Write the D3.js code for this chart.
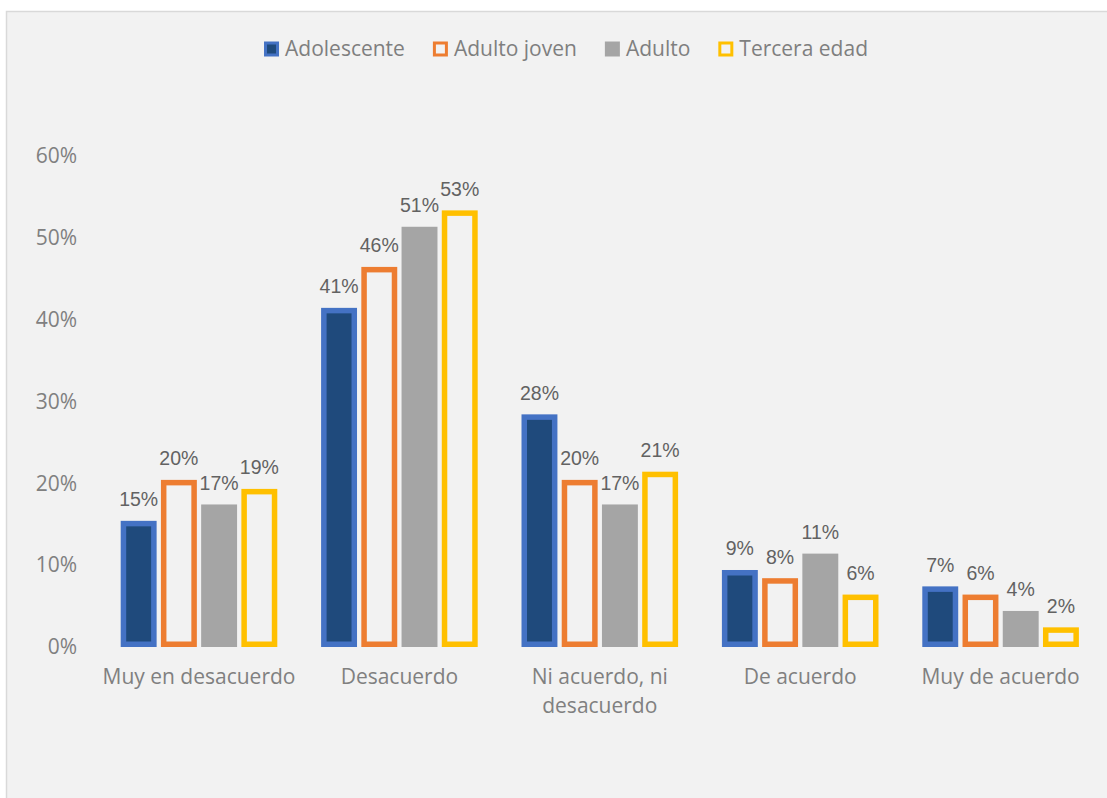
<!DOCTYPE html>
<html>
<head>
<meta charset="utf-8">
<script src="https://cdn.jsdelivr.net/npm/d3@7"></script>
<style>
  body { margin: 0; background: #ffffff; }
  svg { display: block; }
</style>
</head>
<body>
<svg id="chart"></svg>
<script>
// data (percent)
const categories = ["Muy en desacuerdo", "Desacuerdo", "Ni acuerdo, ni desacuerdo", "De acuerdo", "Muy de acuerdo"];
const series = ["Adolescente", "Adulto joven", "Adulto", "Tercera edad"];
const adolescente = [15.4, 41.4, 28.4, 9.4, 7.4];
const adultoJoven = [20.4, 46.4, 20.4, 8.4, 6.4];
const adulto = [17.4, 51.3, 17.4, 11.4, 4.4];
const terceraEdad = [19.3, 53.3, 21.4, 6.4, 2.4];
const yTicks = [0, 10, 20, 30, 40, 50, 60];

const values = [adolescente, adultoJoven, adulto, terceraEdad];
const styles = [
  { fill: "#1f4a7c", stroke: "#4472c4" },
  { fill: "#f2f2f2", stroke: "#ed7d31" },
  { fill: "#a5a5a5", stroke: null },
  { fill: "#f2f2f2", stroke: "#ffc000" }
];

const width = 1107, height = 798;
const svg = d3.select("#chart").attr("width", width).attr("height", height);

// chart area
svg.append("rect")
  .attr("x", 6.5).attr("y", 11.5)
  .attr("width", 1120).attr("height", 820)
  .attr("fill", "#f2f2f2").attr("stroke", "#d9d9d9").attr("stroke-width", 1.5);

const axisFont = "'Open Sans', sans-serif";
const axisSize = 21;

const x0 = d3.scaleBand().domain(categories).range([98.8, 1100.8]).padding(0);
const half = 78.3;
const x1 = d3.scaleBand().domain(series)
  .range([x0.bandwidth() / 2 - half, x0.bandwidth() / 2 + half])
  .paddingInner(0.107).paddingOuter(0);
const y = d3.scaleLinear().domain([0, 60]).range([647, 155.5]);

// y tick labels
svg.append("g").selectAll("text")
  .data(yTicks)
  .join("text")
    .attr("x", 77)
    .attr("y", d => y(d))
    .attr("dy", "0.35em")
    .attr("text-anchor", "end")
    .attr("font-family", axisFont)
    .attr("font-size", axisSize)
    .attr("fill", "#808080")
    .text(d => d + "%");

// bars
const sw = 5.5;
series.forEach((s, si) => {
  const st = styles[si];
  const g = svg.append("g");
  g.selectAll("rect")
    .data(values[si])
    .join("rect")
      .attr("x", (d, i) => x0(categories[i]) + x1(s) + (st.stroke ? sw / 2 : 0))
      .attr("y", d => y(d) + (st.stroke ? sw / 2 : 0))
      .attr("width", x1.bandwidth() - (st.stroke ? sw : 0))
      .attr("height", d => y(0) - y(d) - (st.stroke ? sw : 0))
      .attr("fill", st.fill)
      .attr("stroke", st.stroke || "none")
      .attr("stroke-width", st.stroke ? sw : 0);

  g.selectAll("text")
    .data(values[si])
    .join("text")
      .attr("x", (d, i) => x0(categories[i]) + x1(s) + x1.bandwidth() / 2)
      .attr("y", d => y(d) - 14.5)
      .attr("text-anchor", "middle")
      .attr("font-family", "'Liberation Sans', Arial, sans-serif")
      .attr("font-size", 19.5)
      .attr("fill", "#626262")
      .text(d => Math.round(d) + "%");
});

// category labels with wrapping
const catG = svg.append("g");
categories.forEach(c => {
  const cx = x0(c) + x0.bandwidth() / 2;
  const t = catG.append("text")
    .attr("x", cx)
    .attr("y", 684)
    .attr("text-anchor", "middle")
    .attr("font-family", axisFont)
    .attr("font-size", axisSize)
    .attr("fill", "#808080");
  const words = c.split(" ");
  let line = [];
  let tspan = t.append("tspan").attr("x", cx).attr("dy", 0);
  words.forEach(w => {
    line.push(w);
    tspan.text(line.join(" "));
    if (tspan.node().getComputedTextLength() > 198 && line.length > 1) {
      line.pop();
      tspan.text(line.join(" "));
      line = [w];
      tspan = t.append("tspan").attr("x", cx).attr("dy", 29).text(w);
    }
  });
});

// legend
const legend = svg.append("g");
const box = 15, gapText = 6, gapItem = 28;
let lx = 0;
series.forEach((s, si) => {
  const st = styles[si];
  const item = legend.append("g").attr("transform", `translate(${lx},0)`);
  if (st.stroke) {
    item.append("rect")
      .attr("x", 1.5).attr("y", 41.5 + 1.5)
      .attr("width", box - 3).attr("height", box - 3)
      .attr("fill", st.fill).attr("stroke", st.stroke).attr("stroke-width", 3);
  } else {
    item.append("rect")
      .attr("x", 0).attr("y", 41.5)
      .attr("width", box).attr("height", box)
      .attr("fill", st.fill);
  }
  const t = item.append("text")
    .attr("x", box + gapText)
    .attr("y", 49)
    .attr("dy", "0.35em")
    .attr("font-family", axisFont)
    .attr("font-size", axisSize)
    .attr("fill", "#7f7f7f")
    .text(s);
  lx += box + gapText + t.node().getComputedTextLength() + gapItem;
});
const legendW = lx - gapItem;
legend.attr("transform", `translate(${566 - legendW / 2},0)`);
</script>
</body>
</html>
